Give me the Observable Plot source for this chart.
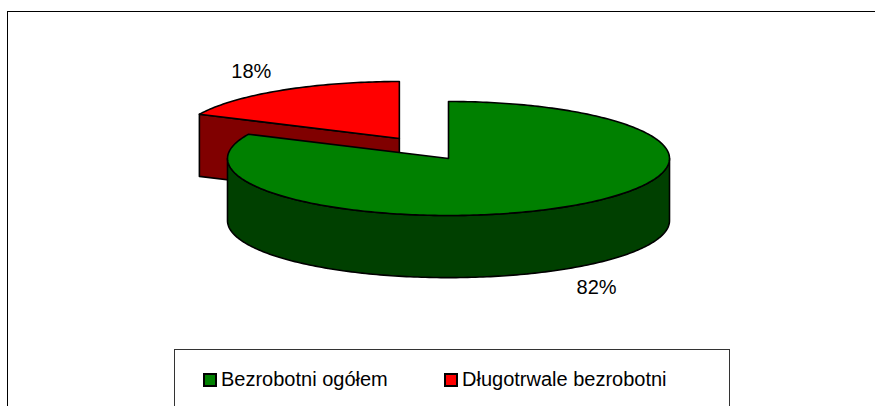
<!DOCTYPE html>
<html>
<head>
<meta charset="utf-8">
<script src="https://cdn.jsdelivr.net/npm/d3@7"></script>
<script src="https://cdn.jsdelivr.net/npm/@observablehq/plot@0.6"></script>
<style>
  html, body { margin: 0; padding: 0; background: #fff; }
  #wrap { position: relative; width: 875px; height: 406px; overflow: hidden; font-family: "Liberation Sans", Arial, sans-serif; }
  #frame { position: absolute; left: 7px; top: 11px; width: 900px; height: 440px; border: 1.5px solid #000; box-sizing: border-box; }
  #plot { position: absolute; left: 0; top: 0; }
  #legend { position: absolute; left: 174px; top: 349px; width: 556px; height: 60px; border: 1px solid #333; box-sizing: border-box; background: #fff; }
  .item { position: absolute; top: 18px; display: flex; align-items: center; font-size: 20px; color: #000; white-space: nowrap; }
  .sw { width: 10px; height: 10px; border: 2px solid #000; margin-right: 4px; }
</style>
</head>
<body>
<div id="wrap">
  <div id="frame"></div>
  <div id="plot"></div>
  <div id="legend"></div>
</div>
<script>
const categories = ["Bezrobotni ogółem", "Długotrwale bezrobotni"];
const shares = [82, 18];
const labels = ["82%", "18%"];
const topColors = ["#008000", "#ff0000"];
const sideColors = ["#004000", "#800000"];

// visual style of the 3D pie (unit radius)
const explode = [0, 0.415];
const depth = 1.09;
const kx = 1.25, ky = 1.4;

const total = d3.sum(shares);
const deg = Math.PI / 180;
let acc = 0;
const slices = shares.map((v, i) => {
  const a0 = acc / total * 2 * Math.PI;
  acc += v;
  const a1 = acc / total * 2 * Math.PI;
  const mid = (a0 + a1) / 2;
  const ox = explode[i] * Math.sin(mid), oy = -explode[i] * Math.cos(mid);
  return {i, a0, a1, mid, ox, oy};
});

function arc(s, from, to, dz) {
  const pts = [];
  const n = Math.max(2, Math.ceil(Math.abs(to - from) / deg));
  for (let k = 0; k <= n; k++) {
    const a = from + (to - from) * k / n;
    pts.push({x: s.ox + Math.sin(a), y: s.oy - Math.cos(a) + dz});
  }
  return pts;
}

const faces = [];
const order = [...slices].sort((p, q) => (-Math.cos(p.mid)) - (-Math.cos(q.mid)));
for (const s of order) {
  const apexT = {x: s.ox, y: s.oy}, apexB = {x: s.ox, y: s.oy + depth};
  // radial face at a0 (normal direction a0 - 90deg)
  if (Math.cos(s.a0 - Math.PI / 2) < -1e-6) {
    const r = {x: s.ox + Math.sin(s.a0), y: s.oy - Math.cos(s.a0)};
    faces.push({fill: sideColors[s.i], pts: [apexT, r, {x: r.x, y: r.y + depth}, apexB]});
  }
  // radial face at a1 (normal direction a1 + 90deg)
  if (Math.cos(s.a1 + Math.PI / 2) < -1e-6) {
    const r = {x: s.ox + Math.sin(s.a1), y: s.oy - Math.cos(s.a1)};
    faces.push({fill: sideColors[s.i], pts: [apexT, r, {x: r.x, y: r.y + depth}, apexB]});
  }
  // curved outer face, front half (90..270 deg)
  const f0 = Math.max(s.a0, Math.PI / 2), f1 = Math.min(s.a1, 3 * Math.PI / 2);
  if (f1 > f0) {
    faces.push({fill: sideColors[s.i], pts: [...arc(s, f0, f1, 0), ...arc(s, f1, f0, depth)]});
  }
  // top surface
  faces.push({fill: topColors[s.i], pts: [apexT, ...arc(s, s.a0, s.a1, 0)]});
}

const labelData = slices.map(s => {
  const front = -Math.cos(s.mid) > 0;
  return {
    x: s.ox + Math.sin(s.mid) * kx,
    y: s.oy - Math.cos(s.mid) * ky + (front ? depth : 0),
    text: labels[s.i]
  };
});

const chart = Plot.plot({
  width: 875,
  height: 345,
  margin: 0,
  x: {domain: [-1, 1], range: [227, 669], axis: null},
  y: {domain: [-1, 1], range: [101, 215], axis: null},
  marks: [
    ...faces.map(f => Plot.line(f.pts, {
      x: "x", y: "y", curve: "linear-closed",
      fill: f.fill, stroke: "#000", strokeWidth: 1.6, strokeLinejoin: "round"
    })),
    Plot.text(labelData, {x: "x", y: "y", text: "text", fontSize: 20, fill: "#000",
      fontFamily: "Liberation Sans, Arial, sans-serif"})
  ],
  style: {background: "transparent", overflow: "visible"}
});
document.getElementById("plot").appendChild(chart);

const legend = document.getElementById("legend");
const lx = [28, 269];
categories.forEach((c, i) => {
  const it = document.createElement("div");
  it.className = "item";
  it.style.left = lx[i] + "px";
  const sw = document.createElement("span");
  sw.className = "sw";
  sw.style.background = topColors[i];
  it.appendChild(sw);
  const t = document.createElement("span");
  t.textContent = c;
  it.appendChild(t);
  legend.appendChild(it);
});
</script>
</body>
</html>
